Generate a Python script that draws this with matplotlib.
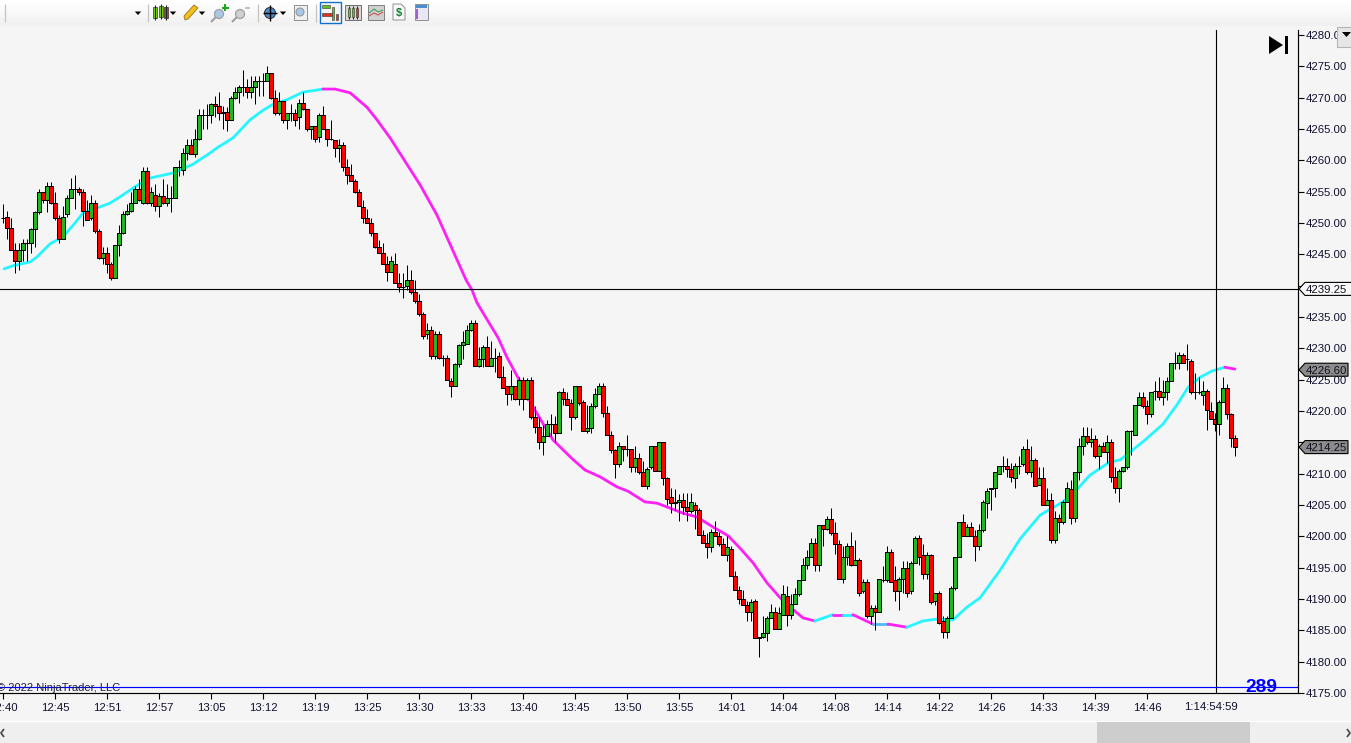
import numpy as np
import matplotlib
matplotlib.use("Agg")
import matplotlib.pyplot as plt
from matplotlib.patches import Rectangle, Polygon, Circle

plt.rcParams['font.family'] = ['Liberation Sans', 'DejaVu Sans']

opens = [
4250.75,4251,4249.25,4245.75,4244,4245.75,4246.75,4246.75,4249,4251.75,
4255,4253.75,4256,4253.25,4250.75,4247.5,4251.5,4254,4255.5,4255.5,
4255,4252,4250.75,4253.25,4248.75,4244.5,4245.25,4243.5,4241.25,4246.5,
4248.5,4251.5,4252,4253.25,4255.5,4253.25,4258.25,4253.25,4254.5,4252.75,
4254.25,4253.25,4254,4254,4259,4258.5,4261.25,4262.5,4261,4263.5,
4267.25,4267.25,4267.25,4269,4268.75,4267.5,4267.75,4266.5,4270,4271,
4271.75,4271.75,4271,4271.75,4272.75,4272.75,4272.75,4274,4270,4267.5,
4269.5,4266.5,4267.5,4267.5,4267,4269.25,4268.25,4265,4265.5,4263.75,
4267.25,4265,4263.5,4263.25,4262,4262.5,4259,4257.75,4256.75,4255,
4252.5,4250.75,4250,4248.5,4246.25,4245.25,4243.5,4242.25,4243.5,4240.5,
4239.75,4240,4241,4239,4237.5,4235.5,4232.25,4233,4228.75,4232.25,
4228.5,4228.5,4224.75,4224,4227.5,4230.5,4230.75,4233,4234,4227.25,
4228.25,4230.25,4227.25,4228.5,4228.75,4225.5,4224,4222.75,4224,4222,
4225,4222,4225,4219,4217.5,4215,4216,4218,4218,4216.5,
4223,4222,4221.25,4219,4224,4221.5,4216.75,4217.25,4220.75,4222.75,
4224,4219.75,4216.25,4213.75,4211.5,4214.5,4214,4214,4211,4212.5,
4210.25,4208,4211,4214.5,4210.5,4215,4209.25,4206.25,4205.25,4205.5,
4205.75,4204.75,4204,4205,4204.25,4200.25,4199,4198.25,4200.75,4200,
4198.75,4197,4198,4193.75,4191.5,4190,4189,4188,4189.75,4183.75,
4184,4184.5,4187,4188,4185.25,4187.5,4190.5,4187.5,4189.25,4190.75,
4193,4195.5,4196.75,4199,4195.5,4201.75,4201.25,4202.75,4200.5,4198.75,
4193.25,4196.75,4198.5,4195.5,4196.25,4191.25,4192.75,4187.25,4188.5,4188,
4193,4193,4197.5,4193,4191.25,4193.25,4195,4191.25,4195.75,4199.75,
4197,4194,4197,4189.75,4191,4186.5,4184.75,4187,4191.75,4196.75,
4202.25,4200,4201.5,4200,4198.5,4201,4205.25,4207.5,4207.75,4210,
4211.25,4211.25,4210.75,4209.25,4211.25,4211.5,4214,4210.25,4212.25,4208.25,
4209.25,4205,4205.75,4199.5,4203,4202.25,4205.5,4207.5,4203,4210.25,
4214.5,4216,4215,4215.5,4212.75,4214.5,4213.5,4215,4209.5,4207.75,
4210.5,4211,4216.75,4216.25,4221,4222.25,4220.75,4219.5,4223.25,4223.25,
4222.25,4223,4224.75,4227.75,4227.75,4229,4228.25,4228,4223,4223,
4222.5,4223.25,4220,4218.75,4218,4221.5,4223.75,4219.5,4215.75,
]

closes = [
4250.75,4249.25,4245.75,4244,4245.75,4246.75,4246.75,4249,4251.75,4255,
4253.75,4256,4253.25,4250.75,4247.5,4251,4254,4255.5,4255.5,4255,
4252,4250.5,4253.25,4248.75,4244.5,4245.25,4243.5,4241.25,4246.5,4248.5,
4251.5,4252,4253.25,4255.5,4253.75,4258.25,4253.25,4255,4252.75,4254.25,
4253.25,4254,4254,4259,4259,4261.25,4262.5,4261,4263.5,4267.25,
4267.25,4267.25,4269,4268.75,4267.5,4267.75,4266.5,4270,4271,4271.75,
4271.75,4271,4271.75,4272.75,4272.75,4272.75,4274,4270,4267.5,4269.5,
4266.5,4267.5,4267.5,4266.5,4269.25,4268.25,4265,4265.5,4263.5,4267.25,
4265,4263.5,4263.5,4262,4262.5,4259,4257.75,4256.75,4255,4252.75,
4250.75,4250,4248.5,4246.25,4245.25,4243.5,4242.25,4244,4240.5,4239.75,
4239.75,4241,4239,4237.5,4235.5,4232,4233,4228.75,4232.25,4228.5,
4228.5,4225,4224,4227.5,4230.5,4231,4233,4234,4227.25,4228.25,
4230.25,4227.25,4228.5,4228.5,4225.5,4223.75,4222.75,4224,4222,4225,
4222,4225,4219,4217.5,4215,4216,4218,4218,4216.5,4223,
4222,4221,4219,4224,4221.25,4216.75,4217.25,4220.75,4222.75,4224,
4219.75,4216.25,4213.75,4211.5,4214.5,4214,4214,4211,4212.5,4210.25,
4208,4210.75,4214.5,4210.5,4215,4209.25,4206,4205.25,4205.5,4205.75,
4204.75,4204,4205.5,4204.25,4200.25,4199,4198.25,4200.75,4200,4198.75,
4197,4198.25,4193.75,4191.5,4190,4189,4188,4189.5,4183.75,4184,
4184.5,4187,4188,4185.25,4187.75,4190.75,4187.5,4189.25,4190.75,4193,
4195.5,4196.75,4199,4195.5,4201.75,4201.25,4202.75,4200.5,4198.75,4193.25,
4196.75,4198.5,4195.5,4196.25,4191,4192.75,4187.25,4188.5,4188,4193.25,
4193,4197.5,4192.75,4191.25,4193.25,4195,4191,4195.75,4199.75,4196.75,
4194,4197,4189.5,4191,4186.25,4184.75,4187,4191.75,4196.75,4202.25,
4200,4201.5,4200,4198.5,4201,4205.5,4207.25,4207.75,4210.25,4211.25,
4211.25,4210.75,4209.5,4211.25,4211.25,4214,4210.25,4212.25,4208,4209.25,
4205,4205.75,4199.5,4203,4202.25,4205.5,4207.75,4203,4210.25,4214.5,
4216,4215,4215.5,4212.75,4214.5,4213.5,4215,4209.5,4207.75,4210.5,
4211,4216.75,4216.75,4221,4222.25,4220.75,4219.5,4223,4223.25,4222.25,
4223,4224.75,4227.75,4227.75,4229,4227.75,4228.25,4223,4223,4223,
4223.25,4220.25,4218.75,4218,4221.5,4223.75,4219.5,4215.75,4214.25,
]

highs = [
4253,4252,4250.75,4246.75,4246.75,4247.5,4247.5,4249.25,4252,4255.5,
4255,4256.5,4256.5,4255,4251.25,4252.75,4254.5,4257.25,4257.75,4255.75,
4255.5,4253.75,4254.5,4253.75,4249,4246.25,4246.25,4243.75,4246.5,4249.75,
4252,4253,4255,4256,4257,4259,4259,4255.75,4256.25,4254.75,
4257,4256.25,4256,4259,4260,4262,4263.5,4263.5,4265,4268.25,
4268.25,4269,4269.25,4270.25,4271,4268.75,4268.5,4270.25,4271.75,4272,
4274.5,4273,4273.5,4273.5,4273.5,4274,4275,4274,4271.25,4271,
4269.5,4267.5,4269,4268.25,4269.75,4271,4268.25,4265.5,4265.5,4267.5,
4268.75,4265,4266.5,4263.25,4263.5,4263,4260.25,4259.5,4257,4255.5,
4253.75,4252.25,4250.75,4248.5,4247.25,4246.75,4244.75,4244.75,4245.25,4242,
4242,4243.25,4242.5,4241,4238.75,4235.75,4234,4233.5,4232.75,4232.75,
4229,4229,4225.25,4227.75,4230.75,4232.75,4233.75,4234.5,4234.5,4230.25,
4230.5,4232,4231.25,4230,4229.5,4227.25,4224,4226.5,4224,4225.5,
4225.5,4225.25,4225.5,4220.75,4219,4217.75,4218.5,4219.5,4219.25,4223.25,
4223.75,4223,4222,4224,4224,4221.75,4221,4221.25,4223.75,4224.5,
4224.5,4220.75,4216.75,4214,4215,4214.5,4216.25,4214,4214.5,4213.25,
4212,4211,4214.5,4214.5,4215,4215,4209.5,4207.75,4207.5,4206.75,
4207,4207,4207,4205.5,4204.5,4201,4200.5,4201.25,4202.5,4200.75,
4199.75,4200,4198.5,4194.5,4192,4191.5,4189.75,4190,4190,4184,
4187.25,4187.25,4189.25,4188.75,4188.75,4192.25,4192,4190.75,4191.75,4193,
4196.5,4197.75,4199.75,4199.75,4201.75,4201.75,4203.25,4204.5,4202.25,4199.5,
4198.5,4199,4200.75,4199.5,4196.5,4193.25,4193.25,4189,4189,4193.25,
4195.25,4198.5,4198,4195.25,4193.5,4196,4196,4196,4200,4200.25,
4198.75,4197.5,4197.25,4191,4191.25,4187.25,4187.25,4192,4196.75,4202.25,
4203.5,4202,4202.25,4201,4202,4205.75,4207.75,4207.75,4210.25,4211.25,
4212.75,4212.5,4211.75,4211.75,4212.75,4214.5,4215.5,4214.5,4212.5,4211,
4211,4207.75,4207,4204,4203.5,4205.75,4208.75,4209,4210.25,4215.75,
4217.5,4217.5,4217.25,4216.25,4214.75,4215,4216.25,4215.5,4211,4210.75,
4211,4217,4217,4221,4223,4223,4221.75,4223,4224.75,4225.5,
4225,4225.5,4227.75,4229.5,4229.5,4229.25,4230.75,4228.25,4226,4225.5,
4224.75,4223.5,4221.5,4219.75,4221.75,4225.5,4224.25,4219.75,4216.25,
]

lows = [
4250,4247.5,4245.75,4242,4242.5,4244,4244,4245.25,4246.25,4251.5,
4253.25,4251.75,4253,4250.5,4246.75,4247.5,4251,4254,4252.25,4254.5,
4249.5,4250.5,4250.5,4248.5,4244.25,4243.5,4242,4241,4241.25,4244.75,
4248.25,4251.25,4251.75,4253.25,4253.5,4253,4253,4252.75,4252,4251,
4253,4252.75,4251.75,4254,4257.5,4257.75,4260,4261,4260.5,4263.25,
4265,4265,4266,4267,4266.5,4265,4264.75,4266.5,4269.75,4269.25,
4270.25,4270,4270,4269,4270.25,4270.25,4272.75,4269.75,4267.25,4267.25,
4266,4265,4266.25,4265.5,4265,4268,4264.75,4263.5,4263,4263,
4265,4262.25,4263.25,4260.5,4259.75,4258.25,4256.25,4256.75,4254.75,4252.75,
4250,4250,4248,4246,4245.25,4243.5,4240.75,4242.25,4240.5,4239,
4238,4239.25,4238.75,4237.25,4235.25,4231.5,4231.5,4228.25,4228.25,4228.25,
4227.25,4225,4222.25,4224,4227,4228.25,4230.75,4232.75,4227.25,4227,
4227,4227.25,4227.25,4226.25,4225.25,4223.75,4221,4221.75,4221.75,4221,
4220.25,4221.75,4218.75,4216.5,4214,4213,4216,4216,4215,4216.5,
4221,4221,4217,4218.75,4221,4216.75,4216.5,4216.5,4220.5,4222.75,
4219,4216.25,4213.25,4209.25,4211,4212,4212.75,4210.25,4210.25,4210,
4208,4207.5,4210.75,4210.5,4210.5,4208.25,4205,4203.75,4204.25,4202.5,
4203.5,4202.5,4203.75,4201.25,4200.25,4199,4196.5,4197.5,4200,4198.5,
4197,4196,4193.75,4191.5,4189.25,4189,4186.5,4186.5,4183.75,4180.75,
4183.75,4183.25,4187,4185.25,4185.25,4187.5,4185.75,4186.75,4189.25,4190.5,
4193,4194.75,4196.75,4194.5,4194.5,4198.5,4201,4200.25,4197.25,4193.25,
4192.5,4195.5,4195.25,4195.5,4190.5,4191,4187,4186,4185,4188,
4192.75,4192.75,4192.75,4189.75,4188.25,4191,4190.25,4190.75,4195.75,4195.5,
4193.25,4193.25,4189.25,4189,4186,4183.75,4183.75,4187,4191.5,4196.75,
4200,4200,4200,4196,4197.75,4200.75,4203,4204.25,4206.25,4210,
4210.25,4209.5,4208.75,4207.75,4210,4211.25,4210,4209.5,4208,4208.25,
4205,4205,4199,4199,4200.5,4202,4205.5,4202,4202.25,4209,
4213,4214.75,4214.25,4212.5,4210.75,4213.5,4211.75,4208.75,4207,4205.5,
4210.25,4210.75,4213,4216.25,4221,4220.5,4218,4219,4221.75,4221.75,
4221,4221.75,4224.75,4226.75,4226.75,4227.75,4226.5,4222.75,4222,4222.75,
4221,4217,4218.75,4216.75,4216.25,4221.5,4218.75,4214.25,4212.75,
]

ma_bars = [0.2,2.4,6.7,8.4,11.7,14.9,17.9,19.9,23.4,26.7,29.2,32.9,36.7,42.4,47.4,51.7,53.4,57.4,61.7,64.9,
           67.2,70.9,74.9,79.9,82.9,86.7,90.9,93.4,96.7,99.9,104.2,108.4,112.9,115.7,117.2,118.4,119.9,123.7,125.9,128.7,
           132.4,135.4,137.4,142.2,145.4,149.2,153.4,156.2,160.4,163.4,166.7,169.9,173.4,177.4,181.2,184.2,187.4,190.9,194.2,198.4,
           199.9,202.9,207.4,209.9,212.4,217.4,221.2,225.9,229.9,233.4,237.4,240.9,244.2,249.2,254.2,256.7,259.2,264.9,268.7,271.7,
           276.7,279.2,284.9,289.9,293.4,296.2,299.2,302.2,305.4,307.9]
ma_values = [4242.7,4243.2,4243.8,4244.6,4246.7,4247.8,4250,4251.6,4252.4,4253.2,4254.2,4255.8,4257.2,4258,4259.4,4261.2,4262,4263.6,4266.5,4268,
             4268.9,4269.7,4270.9,4271.4,4271.4,4270.8,4268.5,4266.5,4263.6,4260.4,4256.1,4251.3,4244.9,4240.9,4239.3,4237.3,4235.7,4231.7,4228.6,4225.3,
             4220.7,4217.5,4215.4,4212.4,4210.6,4209.5,4207.9,4207.2,4205.5,4205.3,4204.5,4203.7,4203.1,4201.5,4200.1,4198.1,4195.8,4192.6,4190.2,4187.8,
             4187,4186.5,4187.5,4187.5,4187.5,4186,4186,4185.5,4186.5,4186.8,4186.65,4188.7,4190.2,4194.6,4199.6,4201.5,4203.4,4205.5,4207.7,4209.8,
             4211.9,4212.2,4215.1,4217.9,4221,4223.8,4225.4,4226.4,4227,4226.7]
CYAN, MAGENTA = '#25f5ff', '#ff20f5'
ma_run_ends = [79.9, 202.9, 207.4, 209.9, 212.4, 217.4, 221.2, 225.9, 305.4, 400]
ma_run_cols = [CYAN, MAGENTA, CYAN, MAGENTA, CYAN, MAGENTA, '#55b8f0', MAGENTA, CYAN, MAGENTA]

x_labels = ['12:40','12:45','12:51','12:57','13:05','13:12','13:19','13:25','13:30','13:33','13:40','13:45',
            '13:50','13:55','14:01','14:04','14:08','14:14','14:22','14:26','14:33','14:39','14:46']
y_ticks = list(range(4175, 4285, 5))
cross_price = 4239.5
cross_label = '4239.25'
cross_bar = 303.2
base_line = 4176
counter = '289'
tag_values = [4226.60, 4214.25]

W, H = 1351, 743
BG = '#f5f5f5'
fig = plt.figure(figsize=(W/100, H/100), dpi=100, facecolor=BG)
L_PX, R_PX, T_PX, B_PX = 0, 1298, 30, 693
ax = fig.add_axes([L_PX/W, (H-B_PX)/H, (R_PX-L_PX)/W, (B_PX-T_PX)/H], facecolor=BG)
PITCH, X0 = 4.0, 3.33
ax.set_xlim((L_PX-X0)/PITCH, (R_PX-X0)/PITCH)
PXPT = 6.265
ax.set_ylim(4175, 4175+(B_PX-T_PX)/PXPT)

idx = np.arange(len(opens))
o, h, l, c = map(np.array, (opens, highs, lows, closes))

# moving-average line, coloured by run
mb, mv = np.array(ma_bars), np.array(ma_values)
start = 0
for end, col in zip(ma_run_ends, ma_run_cols):
    j = np.where(mb <= end)[0].max()
    ax.plot(mb[start:j+1], mv[start:j+1], color=col, lw=2.0, zorder=2, solid_capstyle='round', solid_joinstyle='round')
    start = j

# candles
ax.vlines(idx, l, h, color='black', lw=0.72, zorder=3)
cols = np.where(c > o, '#20b820', np.where(c < o, '#ff0000', '#000000'))
ax.bar(idx, np.abs(c-o), bottom=np.minimum(o, c), width=1.0, color=cols, edgecolor='black', linewidth=0.72, zorder=4)

# crosshair, base line
ax.axhline(cross_price, color='black', lw=0.8, zorder=5)
ax.axvline(cross_bar, color='black', lw=0.8, zorder=5)
ax.axhline(base_line, color='#0000ff', lw=0.85, zorder=5)

# axes
for s in ('top', 'left'):
    ax.spines[s].set_visible(False)
for s in ('right', 'bottom'):
    ax.spines[s].set_linewidth(0.85)
ax.yaxis.tick_right()
ax.set_yticks(y_ticks)
ax.set_yticklabels(['' if v == 4215 else f'{v:.2f}' for v in y_ticks], fontsize=8.2, color='#101030')
ax.tick_params(axis='y', length=4, width=0.8, pad=1.5)
ax.set_xticks(np.arange(len(x_labels))*13)
ax.set_xticklabels(x_labels, fontsize=8.2, color='#101030')
ax.tick_params(axis='x', length=4.5, width=0.8, pad=2.5)

ax.text((-3-X0)/PITCH, 4175.75, '© 2022 NinjaTrader, LLC', fontsize=8.0, color='#202040',
        va='center', ha='left', zorder=6, clip_on=False)
ax.text((1261-X0)/PITCH, 4175.9, counter, fontsize=13.8, fontweight='bold', color='#0000ff',
        va='center', ha='center', zorder=6)

# chrome overlay in pixel coordinates
ov = fig.add_axes([0, 0, 1, 1], facecolor='none', zorder=10)
ov.set_axis_off()
grad = np.linspace(1.0, 0.94, 26).reshape(-1, 1)
ov.imshow(grad, extent=(0, W, 26, 0), aspect='auto', cmap='gray', vmin=0, vmax=1, zorder=0)
ov.set_xlim(0, W)
ov.set_ylim(H, 0)

def rect(x0, y0, x1, y1, fc, ec='none', lw=0, z=2):
    ov.add_patch(Rectangle((x0, y0), x1-x0, y1-y0, facecolor=fc, edgecolor=ec, linewidth=lw, zorder=z))
def poly(pts, fc, ec='none', lw=0, z=2):
    ov.add_patch(Polygon(pts, closed=True, facecolor=fc, edgecolor=ec, linewidth=lw, zorder=z))
def line(xs, ys, c='black', lw=0.8, z=3):
    ov.plot(xs, ys, color=c, lw=lw, zorder=z, solid_capstyle='butt')
def tri(x, y=13, s=3.2):
    poly([(x-s, y-1.5), (x+s, y-1.5), (x, y+2)], 'black')

# bottom scroll bar
rect(0, 721, W, 722, 'white')
rect(0, 722, W, H, '#efefef')
rect(1097, 722, 1250, H, '#cdcdcd')
line([4, 1, 4], [729, 733, 737], '#444444', 1.2)
line([1347, 1350, 1347], [729, 733, 737], '#444444', 1.2)

# toolbar
for x in (5, 148, 258, 316):
    line([x, x], [4, 22], '#c4c4c4', 0.9)
for x in (138, 173, 202, 283):
    tri(x)
for x, y0, y1, col in ((155, 7, 18, '#7ad020'), (161, 6, 17, '#7ad020'), (166, 7, 18, '#e03020')):
    line([x, x], [y0-2, y1+2], '#222222', 0.8)
    rect(x-1.8, y0, x+1.8, y1, col, '#333333', 0.5)
poly([(185, 20), (184, 16), (194, 5), (198, 8), (188, 19)], '#f0c020', '#a07010', 0.6)
for cx, fc in ((219, '#a8c8e8'), (240, '#d0d0d0')):
    ov.add_patch(Circle((cx, 14), 4.5, facecolor=fc, edgecolor='#a0a0a0', lw=0.9, zorder=3))
    line([cx-3, cx-8], [17, 22], '#a0a0a0', 1.5)
line([225, 225], [4, 11], '#10a810', 1.4)
line([221.5, 228.5], [7.5, 7.5], '#10a810', 1.4)
line([245, 250], [7.5, 7.5], '#c0c0c0', 1.4)
ov.add_patch(Circle((270, 13), 5.5, facecolor='#4a8ac8', edgecolor='#303030', lw=0.7, zorder=3))
line([263, 277], [13, 13], 'black', 1.0)
line([270, 270], [5, 21], 'black', 1.0)
rect(294, 5, 307, 20, '#f0f0f0', '#909090', 0.7)
ov.add_patch(Circle((300, 12), 4, facecolor='#a8c8e8', edgecolor='#909090', lw=0.7, zorder=3))
rect(319.5, 1.5, 341, 22.5, '#f4f4f4', '#1070d0', 1.0)
rect(322, 5, 330, 8, '#60c020', '#333333', 0.4, 3)
rect(322, 13, 332, 16, '#e03020', '#333333', 0.4, 3)
rect(332, 7, 334, 20, '#60c020', '#333333', 0.4, 3)
rect(336, 14, 338, 20, '#e03020', '#333333', 0.4, 3)
rect(345, 5, 361, 20, '#d8d8d8', '#707070', 0.7)
for x, col in ((349, '#60c020'), (353, '#60c020'), (357, '#e03020')):
    line([x, x], [6, 19], '#222222', 0.7)
    rect(x-1.3, 8, x+1.3, 17, col, '#333333', 0.4, 4)
rect(368, 5, 384, 20, '#d0d0d0', '#808080', 0.7)
line([369, 374, 378, 383], [13, 9, 12, 10], '#40a060', 0.8)
line([369, 374, 378, 383], [16, 13, 15, 12], '#d05050', 0.8)
poly([(393, 4), (401, 4), (405, 8), (405, 20), (393, 20)], '#f8f8f8', '#909090', 0.7)
ov.text(399, 13, '$', fontsize=8, fontweight='bold', color='#108030', ha='center', va='center', zorder=4)
rect(415, 4, 428, 20, '#e8e8f4', '#909090', 0.7)
rect(416, 5, 427, 8, '#4a90d0', z=3)
rect(416, 9, 418, 19, '#a060d0', z=3)

# play-to-end icon
poly([(1269, 36), (1269, 54), (1283, 45)], 'black')
rect(1285, 36, 1288, 54, 'black')

# scale drop-down button
rect(1336.5, 27, W+1, 46.5, '#e6e6e6', '#b4b4b4', 0.8)
poly([(1342, 32), (1351, 32), (1346.5, 37)], 'black', z=3)

# price flags, placed through the chart's own scale
def price_y(v):
    return H - ax.transData.transform((0, v))[1]
def flag(v, label, fc, right):
    y = price_y(v)
    poly([(1299, y), (1305, y-6.5), (right, y-6.5), (right, y+6.5), (1305, y+6.5)], fc, 'black', 0.8, z=4)
    ov.text(1306, y+0.8, label, fontsize=8.2, color='#101020', va='center', ha='left', zorder=5)

flag(cross_price, cross_label, '#f8f8f8', W+3)
for v in tag_values:
    flag(v, f'{v:.2f}', '#8c8c8c', 1348)

ov.text(1184, 706.5, '1:14:54:59', fontsize=8.2, color='#101030', va='center', ha='left', zorder=5)

fig.savefig('out.png', dpi=100, facecolor=BG)
